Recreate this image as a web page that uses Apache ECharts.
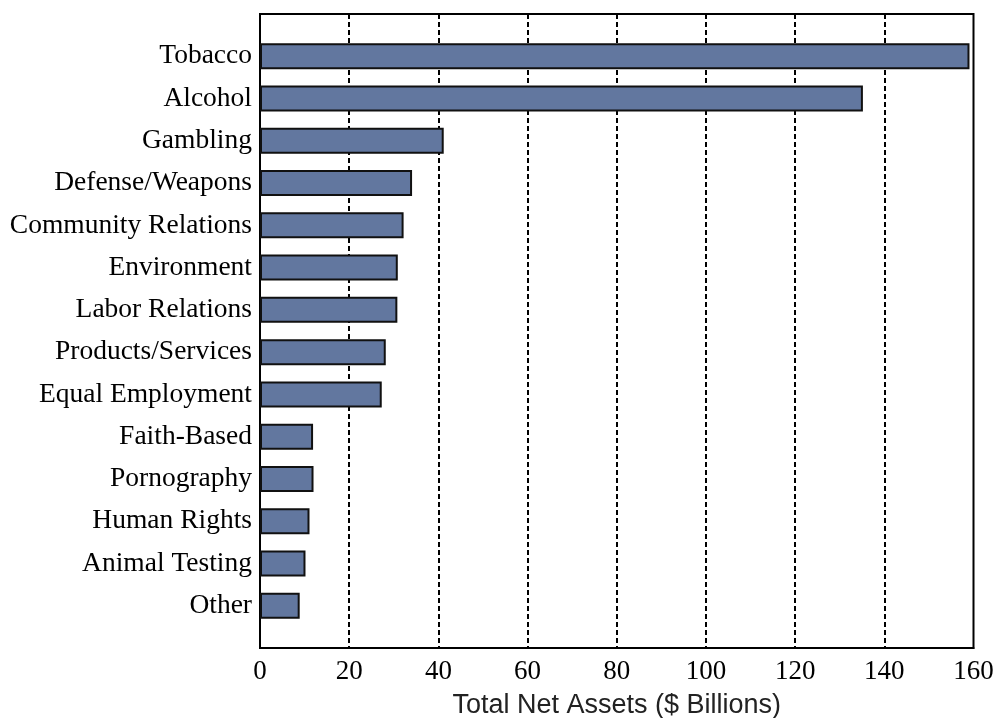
<!DOCTYPE html>
<html>
<head>
<meta charset="utf-8">
<script src="https://cdn.jsdelivr.net/npm/echarts@6/dist/echarts.min.js"></script>
<style>
html,body{margin:0;padding:0;background:#fff;}
#c{width:997px;height:718px;}
</style>
</head>
<body>
<div id="c"></div>
<script>
const categories = ['Tobacco','Alcohol','Gambling','Defense/Weapons','Community Relations','Environment','Labor Relations','Products/Services','Equal Employment','Faith-Based','Pornography','Human Rights','Animal Testing','Other'];
const assets = [159.1, 135.2, 41.2, 34.1, 32.2, 30.9, 30.8, 28.2, 27.3, 11.9, 12.0, 11.1, 10.2, 8.9];
const xTicks = [0, 20, 40, 60, 80, 100, 120, 140, 160];
const xTitle = 'Total Net Assets ($ Billions)';

// one empty slot above and below the categories, as in the reference
const yCats = [''].concat(categories, ['']);
const yVals = [null].concat(assets, [null]);

const chart = echarts.init(document.getElementById('c'), null, {renderer:'canvas'});
chart.setOption({
  animation: false,
  backgroundColor: '#ffffff',
  grid: {left: 260, top: 14, right: 23.5, bottom: 70, show: true, borderColor: '#000', borderWidth: 2, containLabel: false, outerBoundsMode: 'none'},
  xAxis: {
    type: 'value',
    min: xTicks[0], max: xTicks[xTicks.length-1], interval: 20,
    name: xTitle, nameLocation: 'middle', nameGap: 44,
    nameTextStyle: {fontFamily: 'Liberation Sans', fontSize: 27, color: '#222'},
    axisLine: {show: true, lineStyle: {color: '#000', width: 2}},
    axisTick: {show: false},
    axisLabel: {fontFamily: 'Liberation Serif', fontSize: 27, color: '#000', margin: 10},
    splitLine: {show: true, showMinLine: false, showMaxLine: false, lineStyle: {color: '#000', width: 2, type: [5, 3]}}
  },
  yAxis: {
    type: 'category', data: yCats, inverse: true, boundaryGap: false,
    axisLine: {show: true, lineStyle: {color: '#000', width: 2}},
    axisTick: {show: false},
    axisLabel: {fontFamily: 'Liberation Serif', fontSize: 27.5, color: '#000', margin: 8},
    splitLine: {show: false}
  },
  series: [{
    type: 'bar', data: yVals, barWidth: 26,
    itemStyle: {color: '#62779f', borderColor: '#111', borderWidth: 2}
  }]
});
</script>
</body>
</html>
